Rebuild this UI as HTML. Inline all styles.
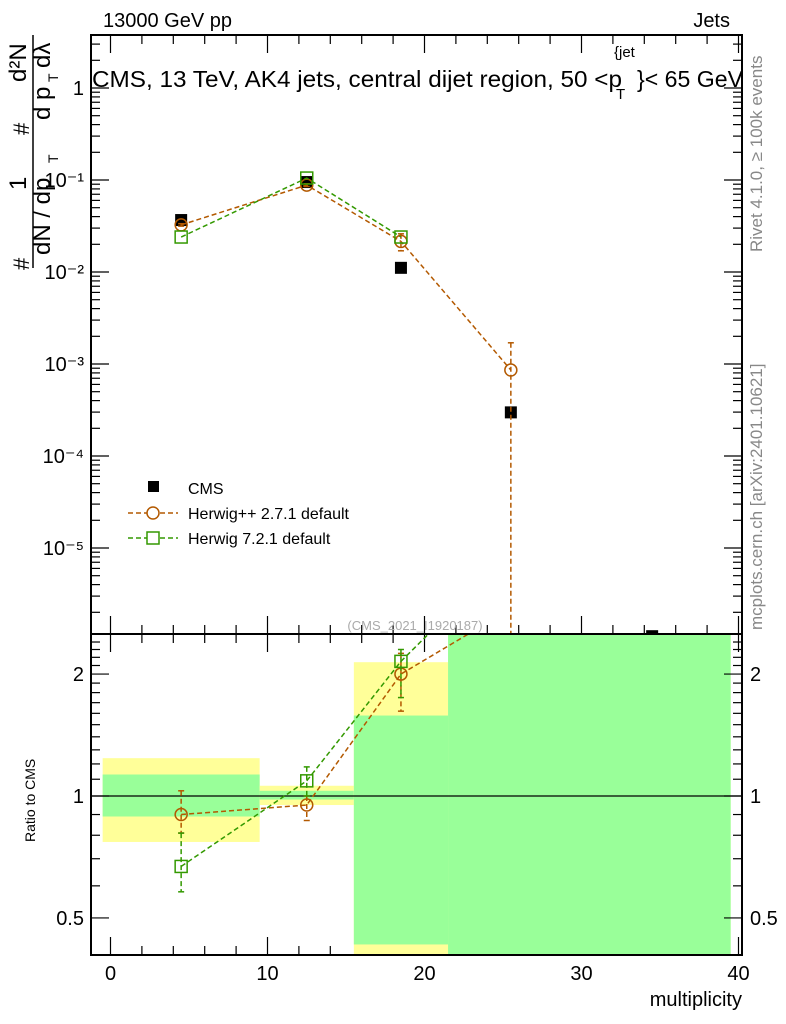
<!DOCTYPE html>
<html><head><meta charset="utf-8"><style>
html,body{margin:0;padding:0;background:#fff;width:786px;height:1024px;overflow:hidden}
svg text{font-family:"Liberation Sans",sans-serif}
</style></head><body>
<svg id="c" width="786" height="1024" xmlns="http://www.w3.org/2000/svg">
<text x="103" y="27" font-size="20">13000 GeV pp</text>
<text x="730" y="27" font-size="20" text-anchor="end">Jets</text>
<text transform="translate(762,252) rotate(-90)" font-size="17" fill="#888">Rivet 4.1.0, ≥ 100k events</text>
<text transform="translate(762,630) rotate(-90)" font-size="17" fill="#888">mcplots.cern.ch [arXiv:2401.10621]</text>
<g>
<text transform="translate(29,270) rotate(-90)" font-size="22">#</text>
<text transform="translate(50,255) rotate(-90)" font-size="24">dN / dp</text>
<text transform="translate(26,190) rotate(-90)" font-size="24">1</text>
<line x1="33" y1="268" x2="33" y2="35" stroke="#000" stroke-width="1.5"/>
<text transform="translate(58,163) rotate(-90)" font-size="14">T</text>
<text transform="translate(29,135) rotate(-90)" font-size="22">#</text>
<text transform="translate(50,120) rotate(-90)" font-size="24">d p</text>
<text transform="translate(58,82) rotate(-90)" font-size="14">T</text>
<text transform="translate(50,68) rotate(-90)" font-size="24">dλ</text>
<text transform="translate(26,82) rotate(-90)" font-size="24">d²N</text>
</g>
<g id="main"></g>
<g id="ratio"></g>
<text x="188" y="494" font-size="16">CMS</text>
<text x="188" y="519" font-size="16">Herwig++ 2.7.1 default</text>
<text x="188" y="544" font-size="16">Herwig 7.2.1 default</text>
<text x="415" y="630" font-size="13" fill="#aaa" text-anchor="middle">(CMS_2021_I1920187)</text>
<g>
<text x="92" y="87" font-size="23" textLength="530" lengthAdjust="spacingAndGlyphs">CMS, 13 TeV, AK4 jets, central dijet region, 50 &lt;p</text>
<text x="614" y="57" font-size="15">{jet</text>
<text x="616" y="99" font-size="15">T</text>
<text x="637" y="87" font-size="23" textLength="106" lengthAdjust="spacingAndGlyphs">}&lt; 65 GeV</text>
</g>
<text font-size="14" transform="rotate(-90,30,800)"><tspan x="-12" y="805">Ratio to CMS</tspan></text>
<text x="742" y="1006" font-size="20" text-anchor="end">multiplicity</text>
</svg>
<script>
const xs=[4.5,12.5,18.5,25.5,34.5];
const cms=[0.0367,0.095,0.0111,0.000298,1.1e-6];
const hpp=[0.0325,0.088,0.0215,0.00086];
const hppErrUp=[0.0335,0.091,0.026,0.0017];
const hppErrDn=[0.0315,0.085,0.017,1e-7];
const h7=[0.024,0.105,0.024];
const binEdges=[-0.5,9.5,15.5,21.5,39.5];
const yellowHi=[1.24,1.06,2.14,3];
const yellowLo=[0.77,0.95,0.3,0.3];
const greenHi=[1.13,1.03,1.58,3];
const greenLo=[0.89,0.98,0.43,0.3];
const rHpp=[0.90,0.95,2.0,2.9];
const rHppUp=[1.03,1.0,2.25,4];
const rHppDn=[0.81,0.87,1.62,2.7];
const rH7=[0.67,1.09,2.15,4];
const rH7Up=[0.81,1.18,2.3,5];
const rH7Dn=[0.58,1.0,1.75,3];
const xTicks=[0,10,20,30,40];
const mainTicks=[1,0.1,0.01,0.001,0.0001,0.00001];
const mainTickLabels=["1","10⁻¹","10⁻²","10⁻³","10⁻⁴","10⁻⁵"];
const ratioTicks=[0.5,1,2];
const ratioTickLabels=["0.5","1","2"];

const NS="http://www.w3.org/2000/svg";
const L=91,R=742,T=35,MB=634,RB=955;
const X=v=>110.5+15.7*v;
const Y=v=>88-92*Math.log10(v);
const YR=v=>796-405*Math.log10(v);
function mk(p,tag,a){const e=document.createElementNS(NS,tag);for(const k in a)e.setAttribute(k,a[k]);p.appendChild(e);return e;}
const main=document.getElementById('main'),ratio=document.getElementById('ratio');
const defs=mk(document.getElementById('c'),'defs',{});
const c1=mk(defs,'clipPath',{id:'cm'});mk(c1,'rect',{x:L,y:T,width:R-L,height:MB-T});
const c2=mk(defs,'clipPath',{id:'cr'});mk(c2,'rect',{x:L,y:MB,width:R-L,height:RB-MB});
const gm=mk(main,'g',{'clip-path':'url(#cm)'});
const gr=mk(ratio,'g',{'clip-path':'url(#cr)'});
for(let i=0;i<4;i++){
 const y1=mk(gr,'rect',{x:X(binEdges[i]),width:X(binEdges[i+1])-X(binEdges[i]),y:YR(yellowHi[i]),height:YR(yellowLo[i])-YR(yellowHi[i]),fill:'#ffff99'});
 
 
 const g1=mk(gr,'rect',{x:X(binEdges[i]),width:X(binEdges[i+1])-X(binEdges[i]),y:YR(greenHi[i]),height:YR(greenLo[i])-YR(greenHi[i]),fill:'#99ff99'});
 
 
}
mk(gr,'line',{x1:L,x2:R,y1:YR(1),y2:YR(1),stroke:'#000','stroke-width':1.2});
function series(g,xv,yv,yf,col,shape,up,dn,name){
 const pts=yv.map((v,i)=>X(xv[i])+','+yf(v)).join(' ');
 const pl=mk(g,'polyline',{points:pts,fill:'none',stroke:col,'stroke-width':1.5,'stroke-dasharray':'5,3'});
 
 
 yv.forEach((v,i)=>{
  const x=X(xv[i]),y=yf(v);
  if(up){mk(g,'line',{x1:x,x2:x,y1:yf(up[i]),y2:yf(dn[i]),stroke:col,'stroke-width':1.5,'stroke-dasharray':'5,3'});
   mk(g,'line',{x1:x-3,x2:x+3,y1:yf(up[i]),y2:yf(up[i]),stroke:col,'stroke-width':1.5});
   mk(g,'line',{x1:x-3,x2:x+3,y1:yf(dn[i]),y2:yf(dn[i]),stroke:col,'stroke-width':1.5});}
  let m;
  if(shape==='c')m=mk(g,'circle',{cx:x,cy:y,r:6,fill:'none',stroke:col,'stroke-width':1.5});
  else m=mk(g,'rect',{x:x-6,y:y-6,width:12,height:12,fill:'none',stroke:col,'stroke-width':1.5});
  
  
 });
}
cms.forEach((v,i)=>{const r=mk(gm,'rect',{x:X(xs[i])-6,y:Y(v)-6,width:12,height:12,fill:'#000'});
 
 });
series(gm,xs,hpp,Y,'#b35900','c',hppErrUp,hppErrDn,'herwigpp');
series(gm,xs,h7,Y,'#339900','s',null,null,'herwig7');
series(gr,xs,rHpp,YR,'#b35900','c',rHppUp,rHppDn,'herwigpp-ratio');
series(gr,xs,rH7,YR,'#339900','s',rH7Up,rH7Dn,'herwig7-ratio');
const f1=mk(main,'rect',{x:L,y:T,width:R-L,height:MB-T,fill:'none',stroke:'#000','stroke-width':2});

const f2=mk(ratio,'rect',{x:L,y:MB,width:R-L,height:RB-MB,fill:'none',stroke:'#000','stroke-width':2});

for(let v=0;v<=40;v+=2){const big=v%10===0,len=big?18:9;
 [[T,1],[MB,-1],[MB,1],[RB,-1]].forEach(([y,d])=>mk(main,'line',{x1:X(v),x2:X(v),y1:y,y2:y+d*len,stroke:'#000','stroke-width':1.2}));}
xTicks.forEach(v=>{const t=mk(main,'text',{x:X(v),y:980,'font-size':20,'text-anchor':'middle'});t.textContent=v;
 });
for(let e=-6;e<=0;e++)for(let m=1;m<10;m++){const v=m*Math.pow(10,e),y=Y(v);if(y<T||y>MB)continue;
 const len=m===1?18:9;mk(main,'line',{x1:L,x2:L+len,y1:y,y2:y,stroke:'#000','stroke-width':1.2});
 mk(main,'line',{x1:R,x2:R-len,y1:y,y2:y,stroke:'#000','stroke-width':1.2});}
mainTicks.forEach((v,i)=>{const t=mk(main,'text',{x:84,y:Y(v)+7,'font-size':20,'text-anchor':'end'});t.textContent=mainTickLabels[i];
 });
for(let v=0.4;v<=2.5;v+=0.1){const y=YR(v);if(y<MB||y>RB)continue;const maj=Math.abs(v-0.5)<1e-6||Math.abs(v-1)<1e-6||Math.abs(v-2)<1e-6;
 const len=maj?18:9;mk(ratio,'line',{x1:L,x2:L+len,y1:y,y2:y,stroke:'#000','stroke-width':1.2});
 mk(ratio,'line',{x1:R,x2:R-len,y1:y,y2:y,stroke:'#000','stroke-width':1.2});}
ratioTicks.forEach((v,i)=>{[84,750].forEach(x=>{const t=mk(ratio,'text',{x:x,y:YR(v)+7,'font-size':20,'text-anchor':x<100?'end':'start'});t.textContent=ratioTickLabels[i];
 });});
const svg=document.getElementById('c');
const lg=mk(svg,'g',{});
mk(lg,'rect',{x:148,y:481,width:11,height:11,fill:'#000'});
mk(lg,'line',{x1:128,x2:178,y1:513,y2:513,stroke:'#b35900','stroke-width':1.5,'stroke-dasharray':'5,3'});
mk(lg,'circle',{cx:153,cy:513,r:6,fill:'#fff',stroke:'#b35900','stroke-width':1.5});
mk(lg,'line',{x1:128,x2:178,y1:538,y2:538,stroke:'#339900','stroke-width':1.5,'stroke-dasharray':'5,3'});
mk(lg,'rect',{x:147,y:532,width:12,height:12,fill:'#fff',stroke:'#339900','stroke-width':1.5});
</script>
</body></html>
